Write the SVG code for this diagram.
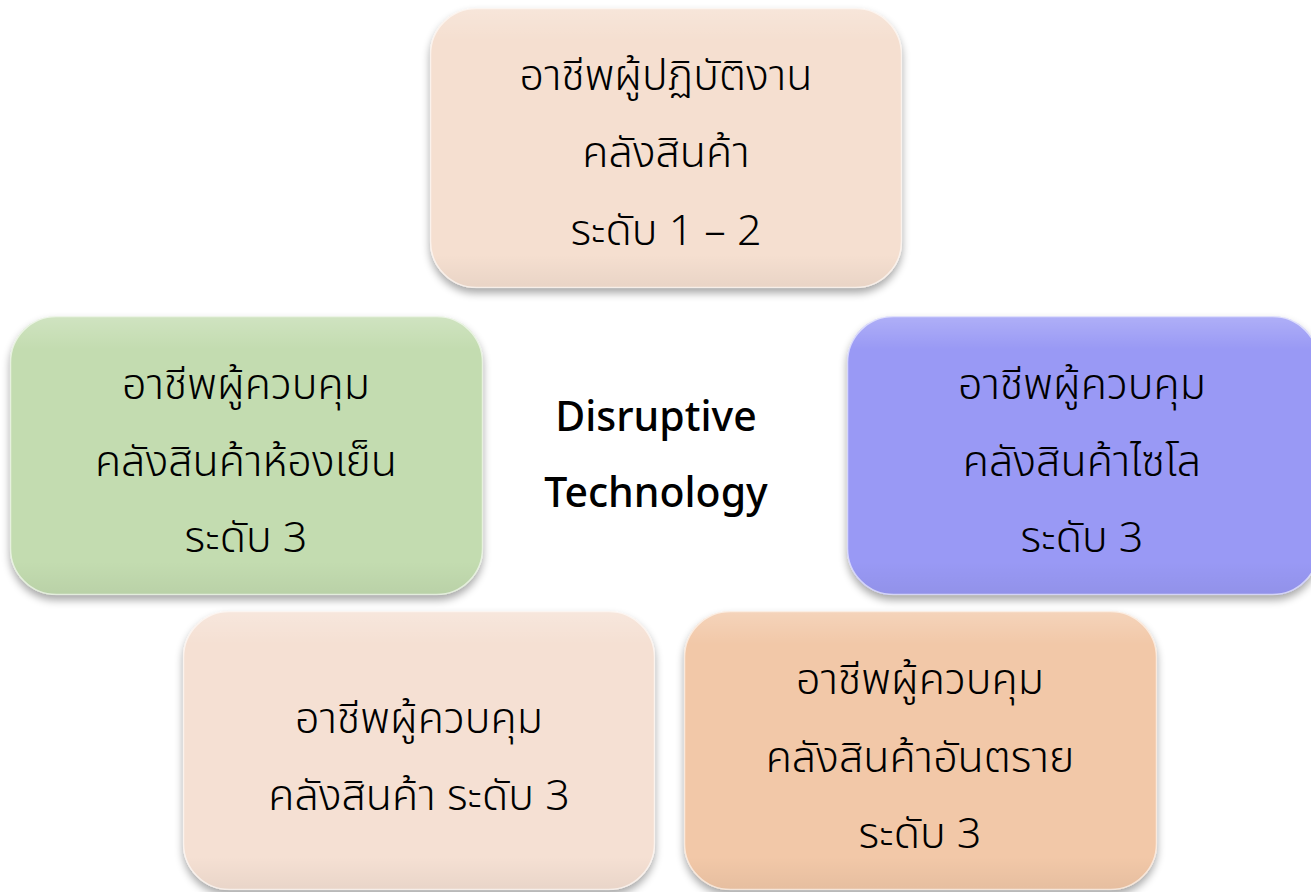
<svg xmlns="http://www.w3.org/2000/svg" width="1311" height="892" viewBox="0 0 1311 892">
<style>
.t{font-family:"Noto Sans","Noto Sans Thai","Liberation Sans",sans-serif;font-size:43px;font-weight:300;fill:#000;text-anchor:middle}
.c{font-family:"Noto Sans","Liberation Sans",sans-serif;font-size:41px;font-weight:500;fill:#000;text-anchor:middle}
.box{filter:url(#sh)}
.hl{fill:url(#gloss)}
.bd{fill:none;stroke:#ffffff;stroke-opacity:0.6;stroke-width:1.5}
</style>
<defs>
<filter id="sh" x="-10%" y="-10%" width="120%" height="130%">
<feGaussianBlur in="SourceAlpha" stdDeviation="4"/>
<feOffset dx="0" dy="5" result="b"/>
<feComponentTransfer><feFuncA type="linear" slope="0.35"/></feComponentTransfer>
<feMerge><feMergeNode/><feMergeNode in="SourceGraphic"/></feMerge>
</filter>
<linearGradient id="gloss" x1="0" y1="0" x2="0" y2="1">
<stop offset="0" stop-color="#fff" stop-opacity="0.22"/>
<stop offset="0.12" stop-color="#fff" stop-opacity="0"/>
<stop offset="0.88" stop-color="#000" stop-opacity="0"/>
<stop offset="1" stop-color="#000" stop-opacity="0.05"/>
</linearGradient>
</defs>
<rect width="1311" height="892" fill="#fff"/>
<g id="connectors"></g>
<g id="n-top">
<rect class="box" x="430" y="8" width="472" height="280" rx="46" fill="#f5dfd0"/>
<rect class="hl" x="430" y="8" width="472" height="280" rx="46"/>
<rect class="bd" x="430.5" y="8.5" width="471" height="279" rx="46"/>
<text class="t" x="666" y="90">อาชีพผู้ปฏิบัติงาน</text>
<text class="t" x="666" y="167">คลังสินค้า</text>
<text class="t" x="666" y="245">ระดับ 1 – 2</text>
</g>
<g id="n-left">
<rect class="box" x="10" y="316" width="473" height="279" rx="46" fill="#c3dcb0"/>
<rect class="hl" x="10" y="316" width="473" height="279" rx="46"/>
<rect class="bd" x="10.5" y="316.5" width="472" height="278" rx="46"/>
<text class="t" x="246" y="399">อาชีพผู้ควบคุม</text>
<text class="t" x="246" y="476">คลังสินค้าห้องเย็น</text>
<text class="t" x="246" y="552">ระดับ 3</text>
</g>
<g id="n-right">
<rect class="box" x="847" y="316" width="472" height="279" rx="46" fill="#9999f5"/>
<rect class="hl" x="847" y="316" width="472" height="279" rx="46"/>
<rect class="bd" x="847.5" y="316.5" width="471" height="278" rx="46"/>
<text class="t" x="1082" y="399">อาชีพผู้ควบคุม</text>
<text class="t" x="1082" y="476">คลังสินค้าไซโล</text>
<text class="t" x="1082" y="552">ระดับ 3</text>
</g>
<g id="n-center">
<text class="c" x="656" y="431">Disruptive</text>
<text class="c" x="656" y="507">Technology</text>
</g>
<g id="n-botleft">
<rect class="box" x="183" y="611" width="472" height="279" rx="46" fill="#f5e0d3"/>
<rect class="hl" x="183" y="611" width="472" height="279" rx="46"/>
<rect class="bd" x="183.5" y="611.5" width="471" height="278" rx="46"/>
<text class="t" x="419" y="733">อาชีพผู้ควบคุม</text>
<text class="t" x="419" y="810">คลังสินค้า ระดับ 3</text>
</g>
<g id="n-botright">
<rect class="box" x="684" y="611" width="473" height="279" rx="46" fill="#f2c8a8"/>
<rect class="hl" x="684" y="611" width="473" height="279" rx="46"/>
<rect class="bd" x="684.5" y="611.5" width="472" height="278" rx="46"/>
<text class="t" x="920" y="694">อาชีพผู้ควบคุม</text>
<text class="t" x="920" y="772">คลังสินค้าอันตราย</text>
<text class="t" x="920" y="848">ระดับ 3</text>
</g>
</svg>
